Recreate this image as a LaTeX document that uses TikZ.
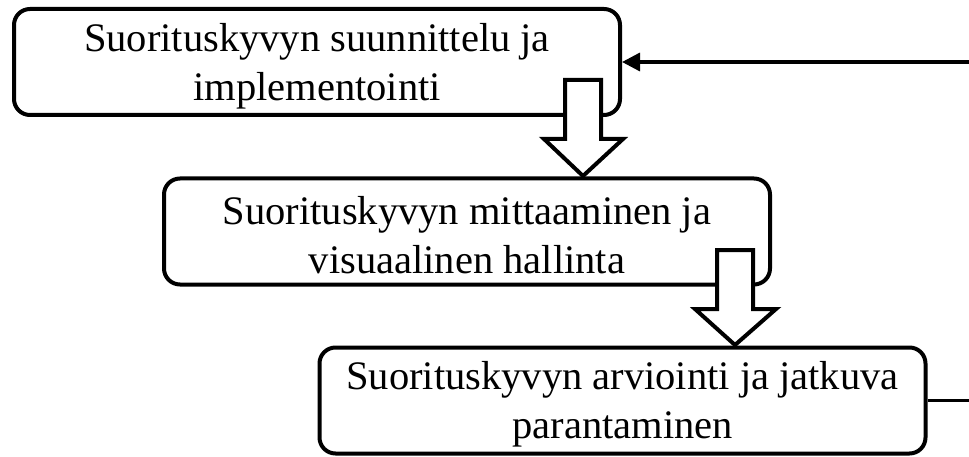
\documentclass[tikz,border=0pt]{standalone}
\usepackage{fontspec}
\setmainfont{Liberation Serif}
\usetikzlibrary{arrows.meta}
\tikzset{
  stagebox/.style={draw, line width=4pt, rounded corners=16pt, minimum width=606pt, minimum height=106pt, inner sep=0pt, fill=white},
  stagetext/.style={align=center, inner sep=0pt, font=\fontsize{40.5}{49}\selectfont},
  blockarrow/.style={draw, line width=4pt, fill=white, miter limit=10, line join=miter},
  feedback/.style={line width=3.4pt, -{Triangle[length=18pt,width=18pt]}}
}
\begin{document}
\begin{tikzpicture}[x=1pt,y=-1pt]
\useasboundingbox (0,0) rectangle (969,457);
\fill[white] (0,0) rectangle (969,457);
\node[stagebox] (b1) at (317,62) {};
\node[stagebox] (b2) at (467,231.5) {};
\node[stagebox] (b3) at (622.5,400.5) {};
\node[stagetext] (t1) at ([yshift=-4pt]b1.center) {Suorituskyvyn suunnittelu ja\\implementointi};
\node[stagetext] (t2) at ([yshift=-4pt]b2.center) {Suorituskyvyn mittaaminen ja\\visuaalinen hallinta};
\node[stagetext] (t3) at ([yshift=-4pt]b3.center) {Suorituskyvyn arviointi ja jatkuva\\parantaminen};
% block arrows
\path[blockarrow] (565,80) -- (601,80) -- (601,139) -- (623,139) -- (583,176) -- (544,139) -- (565,139) -- cycle;
\path[blockarrow] (717,250) -- (753,250) -- (753,309) -- (776,309) -- (735,345) -- (695,309) -- (717,309) -- cycle;
% feedback loop
\coordinate (fr) at (990,400.5);
\coordinate (ft) at (990,62);
\begin{scope}
\clip (0,0) rectangle (969,457);
\draw[feedback] (b3.east) -- (fr) -- (ft) -- (b1.east);
\end{scope}
\end{tikzpicture}
\end{document}
